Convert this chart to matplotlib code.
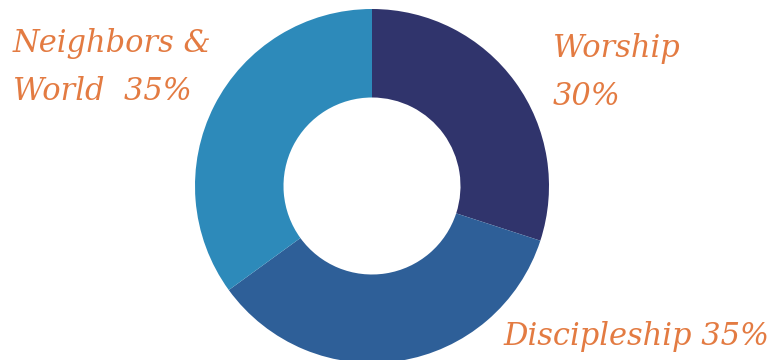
import matplotlib.pyplot as plt

labels = ["Worship", "Discipleship", "Neighbors & World"]
shares = [30, 35, 35]
colors = ["#30346c", "#2e5f98", "#2d8aba"]
text_color = "#e37b42"

W, H = 775, 360
fig = plt.figure(figsize=(W / 100, H / 100), dpi=100)

cx, cy, r = 372, 186, 177
ax = fig.add_axes([(cx - r) / W, (H - cy - r) / H, 2 * r / W, 2 * r / H])
ax.pie(
    shares,
    colors=colors,
    startangle=90,
    counterclock=False,
    radius=1,
    wedgeprops=dict(width=0.5, linewidth=0),
)
ax.set_xlim(-1, 1)
ax.set_ylim(-1, 1)
ax.set_aspect("equal")
ax.axis("off")

font = dict(family="DejaVu Serif", style="italic", color=text_color,
            fontsize=22, va="baseline", ha="left")


def put(x, y, s):
    fig.text(x / W, 1 - y / H, s, **font)


put(13, 52, "Neighbors &")
put(13, 100, "World  %d%%" % shares[2])
put(553, 57, labels[0])
put(553, 105, "%d%%" % shares[0])
put(503, 345, "%s %d%%" % (labels[1], shares[1]))

fig.savefig("out.png", dpi=100)
